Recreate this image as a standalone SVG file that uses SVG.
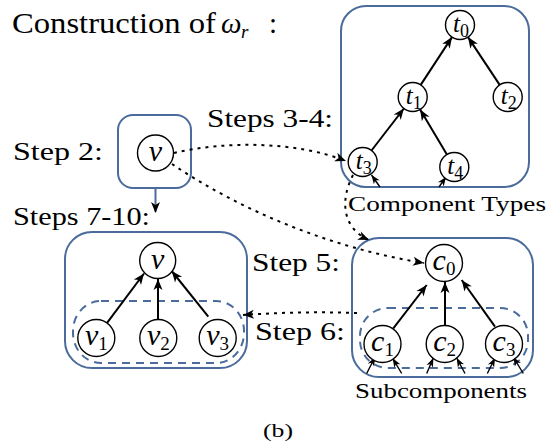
<svg xmlns="http://www.w3.org/2000/svg" width="559" height="445" viewBox="0 0 559 445" font-family="Times New Roman, Liberation Serif, serif">
<style>
.box{fill:none;stroke:#4a6b9b;stroke-width:2}
.dbox{fill:none;stroke:#4a6b9b;stroke-width:2;stroke-dasharray:8 6}
.nd{fill:#fff;stroke:#000;stroke-width:1.4}
.e{fill:none;stroke:#000;stroke-width:2}
.se{fill:none;stroke:#000;stroke-width:1.4}
.dot{fill:none;stroke:#000;stroke-width:2;stroke-dasharray:3 5}
.ah{fill:#000;stroke:none}
</style>

<g id="title">
<text x="12" y="33" font-size="29" font-family="Times New Roman, Liberation Serif, serif" textLength="204" lengthAdjust="spacingAndGlyphs">Construction of</text>
<text x="221" y="33" font-size="29" font-family="Times New Roman, Liberation Serif, serif" font-style="italic">ω</text>
<text x="241" y="38" font-size="19" font-family="Times New Roman, Liberation Serif, serif" font-style="italic">r</text>
<text x="269" y="33" font-size="29" font-family="Times New Roman, Liberation Serif, serif">:</text>
</g>

<g id="labels">
<text x="13" y="160" font-size="26" font-family="Times New Roman, Liberation Serif, serif" textLength="90" lengthAdjust="spacingAndGlyphs">Step 2:</text>
<text x="207" y="127" font-size="26" font-family="Times New Roman, Liberation Serif, serif" textLength="126" lengthAdjust="spacingAndGlyphs">Steps 3-4:</text>
<text x="13" y="225" font-size="26" font-family="Times New Roman, Liberation Serif, serif" textLength="137" lengthAdjust="spacingAndGlyphs">Steps 7-10:</text>
<text x="252" y="271" font-size="26" font-family="Times New Roman, Liberation Serif, serif" textLength="88" lengthAdjust="spacingAndGlyphs">Step 5:</text>
<text x="255" y="340" font-size="26" font-family="Times New Roman, Liberation Serif, serif" textLength="90" lengthAdjust="spacingAndGlyphs">Step 6:</text>
<text x="348" y="211" font-size="22" font-family="Times New Roman, Liberation Serif, serif" textLength="198" lengthAdjust="spacingAndGlyphs">Component Types</text>
<text x="355" y="398" font-size="22" font-family="Times New Roman, Liberation Serif, serif" textLength="172" lengthAdjust="spacingAndGlyphs">Subcomponents</text>
<text x="263" y="437" font-size="18" font-family="Times New Roman, Liberation Serif, serif" textLength="30" lengthAdjust="spacingAndGlyphs">(b)</text>
</g>

<g id="component-types">
<rect class="box" x="341" y="6" width="188" height="181" rx="25"/>
</g>
<g id="step2-box">
<rect class="box" x="118" y="115" width="73" height="73" rx="15"/>
</g>
<g id="steps7-10-box">
<rect class="box" x="65" y="232" width="182" height="136" rx="27"/>
<rect class="dbox" x="73" y="301" width="171" height="62" rx="28" ry="30"/>
</g>
<g id="subcomponents-box">
<rect class="box" x="352" y="238" width="181" height="139" rx="27"/>
<rect class="dbox" x="360" y="308" width="168" height="60" rx="28" ry="28"/>
</g>

<g id="connectors">
<path class="e" d="M420.7,84.9 L452,37.1"/>
<path class="ah" d="M0,0 L-11,-4.5 L-8,0 L-11,4.5 z" transform="translate(452,37.1) rotate(-56.8)"/>
<path class="e" d="M499.7,84.9 L468,37.1"/>
<path class="ah" d="M0,0 L-11,-4.5 L-8,0 L-11,4.5 z" transform="translate(468,37.1) rotate(-123.6)"/>
<path class="e" d="M371.5,150.5 L403.9,108.5"/>
<path class="ah" d="M0,0 L-11,-4.5 L-8,0 L-11,4.5 z" transform="translate(403.9,108.5) rotate(-52.4)"/>
<path class="e" d="M446.9,154.5 L420.1,109.5"/>
<path class="ah" d="M0,0 L-11,-4.5 L-8,0 L-11,4.5 z" transform="translate(420.1,109.5) rotate(-120.8)"/>
<path class="e" d="M106.7,323.3 L144,273.5"/>
<path class="ah" d="M0,0 L-11,-4.5 L-8,0 L-11,4.5 z" transform="translate(144,273.5) rotate(-53.2)"/>
<path class="e" d="M158,319 L158,279"/>
<path class="ah" d="M0,0 L-11,-4.5 L-8,0 L-11,4.5 z" transform="translate(158,279) rotate(-90)"/>
<path class="e" d="M208.3,316.7 L171.7,271"/>
<path class="ah" d="M0,0 L-11,-4.5 L-8,0 L-11,4.5 z" transform="translate(171.7,271) rotate(-128.7)"/>
<path class="e" d="M393.3,328.3 L426.7,285"/>
<path class="ah" d="M0,0 L-11,-4.5 L-8,0 L-11,4.5 z" transform="translate(426.7,285) rotate(-52.4)"/>
<path class="e" d="M445,325 L445,282"/>
<path class="ah" d="M0,0 L-11,-4.5 L-8,0 L-11,4.5 z" transform="translate(445,282) rotate(-90)"/>
<path class="e" d="M495,326.7 L461.7,280"/>
<path class="ah" d="M0,0 L-11,-4.5 L-8,0 L-11,4.5 z" transform="translate(461.7,280) rotate(-125.5)"/>

<path class="se" d="M380,187 L371.5,175"/>
<path class="ah" d="M0,0 L-9,-3.5 L-6.5,0 L-9,3.5 z" transform="translate(371.5,175) rotate(-125.3)"/>
<path class="se" d="M439,187 L446,177"/>
<path class="ah" d="M0,0 L-9,-3.5 L-6.5,0 L-9,3.5 z" transform="translate(446,177) rotate(-55)"/>
<path class="se" d="M366.7,373.5 L375,357"/>
<path class="ah" d="M0,0 L-9,-3.5 L-6.5,0 L-9,3.5 z" transform="translate(375,357) rotate(-63.3)"/>
<path class="se" d="M401.7,373.5 L392.7,358.3"/>
<path class="ah" d="M0,0 L-9,-3.5 L-6.5,0 L-9,3.5 z" transform="translate(392.7,358.3) rotate(-120.6)"/>
<path class="se" d="M426.7,373.5 L433.3,358"/>
<path class="ah" d="M0,0 L-9,-3.5 L-6.5,0 L-9,3.5 z" transform="translate(433.3,358) rotate(-66.9)"/>
<path class="se" d="M465,373.5 L456.7,358"/>
<path class="ah" d="M0,0 L-9,-3.5 L-6.5,0 L-9,3.5 z" transform="translate(456.7,358) rotate(-118.2)"/>
<path class="se" d="M487.3,373.5 L495,358"/>
<path class="ah" d="M0,0 L-9,-3.5 L-6.5,0 L-9,3.5 z" transform="translate(495,358) rotate(-63.6)"/>
<path class="se" d="M523.3,373.5 L513.3,357"/>
<path class="ah" d="M0,0 L-9,-3.5 L-6.5,0 L-9,3.5 z" transform="translate(513.3,357) rotate(-121.2)"/>

<path class="dot" d="M174,153 C225,141 295,141 346,161"/>
<path class="ah" d="M0,0 L-11,-4.5 L-8,0 L-11,4.5 z" transform="translate(346,161) rotate(21.4)"/>
<path class="dot" d="M172,164 C240,210 330,248 424,263"/>
<path class="ah" d="M0,0 L-11,-4.5 L-8,0 L-11,4.5 z" transform="translate(424,263) rotate(9.1)"/>
<path class="dot" d="M353,175 C340,200 342,228 369,240"/>
<path class="ah" d="M0,0 L-11,-4.5 L-8,0 L-11,4.5 z" transform="translate(369,240) rotate(24)"/>
<path class="dot" d="M357,313 Q300,311 243,315"/>
<path class="ah" d="M0,0 L-11,-4.5 L-8,0 L-11,4.5 z" transform="translate(243,315) rotate(176)"/>
<path d="M155.5,188 L155.5,212" fill="none" stroke="#4a6b9b" stroke-width="2"/>
<path class="ah" d="M0,0 L-11,-4.5 L-8,0 L-11,4.5 z" transform="translate(155.5,213) rotate(90)"/>
</g>

<g id="t0"><circle class="nd" cx="460" cy="25" r="14.5"/><text x="461" y="32" text-anchor="middle" font-family="Times New Roman, Liberation Serif, serif"><tspan font-style="italic" font-size="25">t</tspan><tspan font-size="18" dy="5">0</tspan></text></g>
<g id="t1"><circle class="nd" cx="412.7" cy="97" r="14.5"/><text x="413.7" y="104" text-anchor="middle" font-family="Times New Roman, Liberation Serif, serif"><tspan font-style="italic" font-size="25">t</tspan><tspan font-size="18" dy="5">1</tspan></text></g>
<g id="t2"><circle class="nd" cx="507.7" cy="97" r="14.5"/><text x="508.7" y="104" text-anchor="middle" font-family="Times New Roman, Liberation Serif, serif"><tspan font-style="italic" font-size="25">t</tspan><tspan font-size="18" dy="5">2</tspan></text></g>
<g id="t3"><circle class="nd" cx="362.7" cy="162" r="14.5"/><text x="363.7" y="169" text-anchor="middle" font-family="Times New Roman, Liberation Serif, serif"><tspan font-style="italic" font-size="25">t</tspan><tspan font-size="18" dy="5">3</tspan></text></g>
<g id="t4"><circle class="nd" cx="454.3" cy="167" r="14.5"/><text x="455.3" y="174" text-anchor="middle" font-family="Times New Roman, Liberation Serif, serif"><tspan font-style="italic" font-size="25">t</tspan><tspan font-size="18" dy="5">4</tspan></text></g>

<g id="v-step2"><circle class="nd" cx="155.5" cy="153" r="18"/><text x="155.5" y="161" text-anchor="middle" font-style="italic" font-size="30" font-family="Times New Roman, Liberation Serif, serif">v</text></g>

<g id="v"><circle class="nd" cx="157.7" cy="260.5" r="18"/><text x="157.7" y="268.5" text-anchor="middle" font-style="italic" font-size="30" font-family="Times New Roman, Liberation Serif, serif">v</text></g>
<g id="v1"><circle class="nd" cx="96.3" cy="338" r="18.5"/><text x="96.3" y="345" text-anchor="middle" font-family="Times New Roman, Liberation Serif, serif"><tspan font-style="italic" font-size="30">v</tspan><tspan font-size="19" dy="5">1</tspan></text></g>
<g id="v2"><circle class="nd" cx="158.3" cy="338" r="18.5"/><text x="158.3" y="345" text-anchor="middle" font-family="Times New Roman, Liberation Serif, serif"><tspan font-style="italic" font-size="30">v</tspan><tspan font-size="19" dy="5">2</tspan></text></g>
<g id="v3"><circle class="nd" cx="217.7" cy="338" r="18.5"/><text x="217.7" y="345" text-anchor="middle" font-family="Times New Roman, Liberation Serif, serif"><tspan font-style="italic" font-size="30">v</tspan><tspan font-size="19" dy="5">3</tspan></text></g>

<g id="c0"><circle class="nd" cx="444" cy="263" r="18.5"/><text x="444" y="270" text-anchor="middle" font-family="Times New Roman, Liberation Serif, serif"><tspan font-style="italic" font-size="30">c</tspan><tspan font-size="19" dy="5">0</tspan></text></g>
<g id="c1"><circle class="nd" cx="382.5" cy="344" r="18.5"/><text x="382.5" y="351" text-anchor="middle" font-family="Times New Roman, Liberation Serif, serif"><tspan font-style="italic" font-size="30">c</tspan><tspan font-size="19" dy="5">1</tspan></text></g>
<g id="c2"><circle class="nd" cx="444.7" cy="344" r="18.5"/><text x="444.7" y="351" text-anchor="middle" font-family="Times New Roman, Liberation Serif, serif"><tspan font-style="italic" font-size="30">c</tspan><tspan font-size="19" dy="5">2</tspan></text></g>
<g id="c3"><circle class="nd" cx="504" cy="344" r="18.5"/><text x="504" y="351" text-anchor="middle" font-family="Times New Roman, Liberation Serif, serif"><tspan font-style="italic" font-size="30">c</tspan><tspan font-size="19" dy="5">3</tspan></text></g>
</svg>
